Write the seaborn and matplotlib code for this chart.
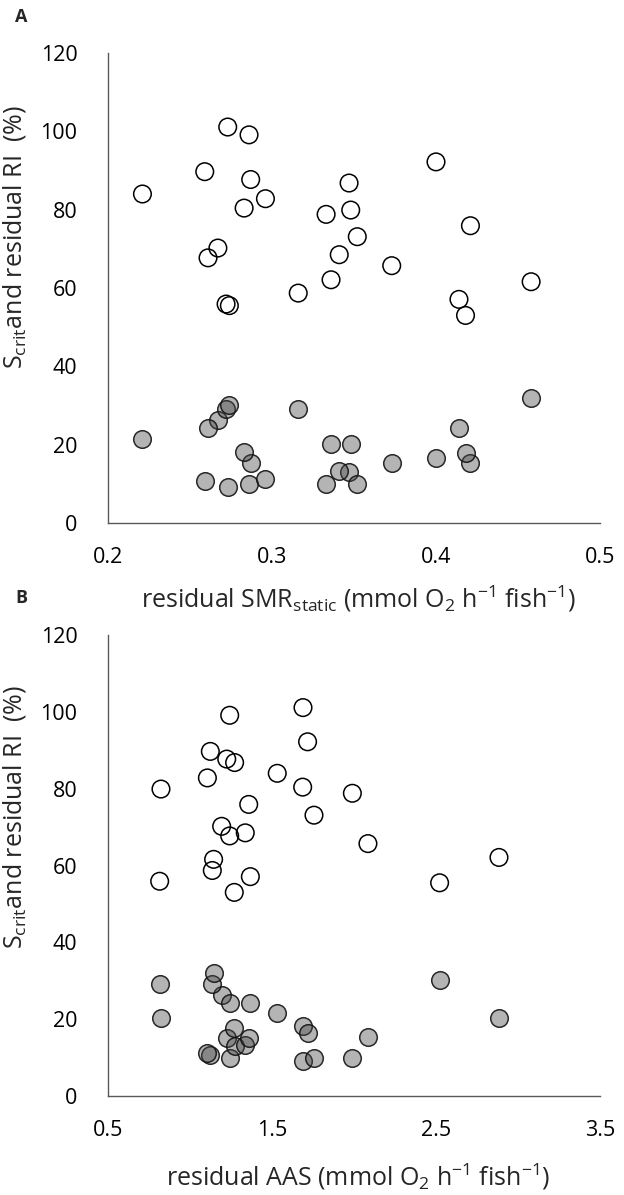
import matplotlib
matplotlib.use("Agg")
import matplotlib.pyplot as plt
import seaborn as sns
import pandas as pd

# ---- data (one entry per fish) ----
smr_static = [0.221, 0.273, 0.286, 0.259, 0.287, 0.296, 0.283, 0.267, 0.261, 0.272, 0.274, 0.316,
              0.347, 0.333, 0.348, 0.352, 0.341, 0.336, 0.373, 0.400, 0.421, 0.414, 0.418, 0.458]
aas = [1.532, 1.689, 1.242, 1.124, 1.224, 1.106, 1.687, 1.193, 1.242, 0.815, 2.522, 1.136,
       1.272, 1.990, 0.823, 1.756, 1.337, 2.884, 2.085, 1.717, 1.358, 1.368, 1.270, 1.144]
residual_ri = [84.0, 101.1, 99.1, 89.7, 87.7, 82.8, 80.4, 70.2, 67.7, 55.9, 55.5, 58.7,
               86.8, 78.8, 79.9, 73.1, 68.5, 62.1, 65.7, 92.2, 75.9, 57.1, 53.0, 61.6]
scrit = [21.5, 9.2, 10.0, 10.8, 15.2, 11.2, 18.1, 26.2, 24.2, 29.2, 30.1, 29.1,
         12.9, 10.0, 20.2, 10.0, 13.3, 20.2, 15.3, 16.5, 15.2, 24.3, 17.8, 31.9]

xticks_A = [0.2, 0.3, 0.4, 0.5]
xticks_B = [0.5, 1.5, 2.5, 3.5]
yticks = [0, 20, 40, 60, 80, 100, 120]

df = pd.DataFrame({"smr": smr_static, "aas": aas, "ri": residual_ri, "scrit": scrit})

sns.set_theme(style="white")
plt.rcParams["font.family"] = ["Open Sans", "DejaVu Sans"]
plt.rcParams["mathtext.fontset"] = "custom"
plt.rcParams["mathtext.rm"] = "Open Sans"
plt.rcParams["mathtext.it"] = "Open Sans:italic"
plt.rcParams["mathtext.bf"] = "Open Sans:bold"

fig = plt.figure(figsize=(6.24, 11.95), dpi=100)
axA = fig.add_axes([108 / 624, 1 - 523 / 1195, 492 / 624, 470 / 1195])
axB = fig.add_axes([108 / 624, 1 - 1096 / 1195, 492 / 624, 461 / 1195])

spine_col = "#595959"
ms = 160

def draw(ax, xcol, xticks, xlabel, ylab_y, xlab_y):
    sns.scatterplot(data=df, x=xcol, y="ri", ax=ax, s=ms, facecolor="none",
                    edgecolor="black", linewidth=1.1, zorder=3)
    sns.scatterplot(data=df, x=xcol, y="scrit", ax=ax, s=ms,
                    facecolor=(0.27, 0.27, 0.27, 0.4),
                    edgecolor=(0.08, 0.08, 0.08, 0.9), linewidth=1.1, zorder=3)
    ax.set_xlim(xticks[0], xticks[-1])
    ax.set_ylim(0, 120)
    ax.set_xticks(xticks)
    ax.set_xticklabels([f"{t:g}" for t in xticks])
    ax.set_yticks(yticks)
    for s in ["top", "right"]:
        ax.spines[s].set_visible(False)
    for s in ["left", "bottom"]:
        ax.spines[s].set_color(spine_col)
        ax.spines[s].set_linewidth(1.0)
    ax.tick_params(axis="both", length=0, labelsize=15.5, colors="black")
    ax.tick_params(axis="y", pad=22)
    ax.tick_params(axis="x", pad=17)
    ax.set_ylabel(r"S$_{\mathregular{crit}}$and residual RI  (%)", fontsize=18)
    ax.yaxis.set_label_coords(-0.162, ylab_y)
    ax.set_xlabel(xlabel, fontsize=18)
    ax.xaxis.set_label_coords(0.508, xlab_y)

draw(axA, "smr", xticks_A,
     r"residual SMR$_{\mathregular{static}}$ (mmol O$_{\mathregular{2}}$ h$^{\mathregular{-1}}$ fish$^{\mathregular{-1}}$)",
     0.609, -0.128)
draw(axB, "aas", xticks_B,
     r"residual AAS (mmol O$_{\mathregular{2}}$ h$^{\mathregular{-1}}$ fish$^{\mathregular{-1}}$)",
     0.605, -0.142)

fig.text(15 / 624, 1 - 17 / 1195, "A", fontsize=13, fontweight="bold", va="center", ha="left")
fig.text(15 / 624, 1 - 598 / 1195, "B", fontsize=13, fontweight="bold", va="center", ha="left")

fig.savefig("out.png", dpi=100)
